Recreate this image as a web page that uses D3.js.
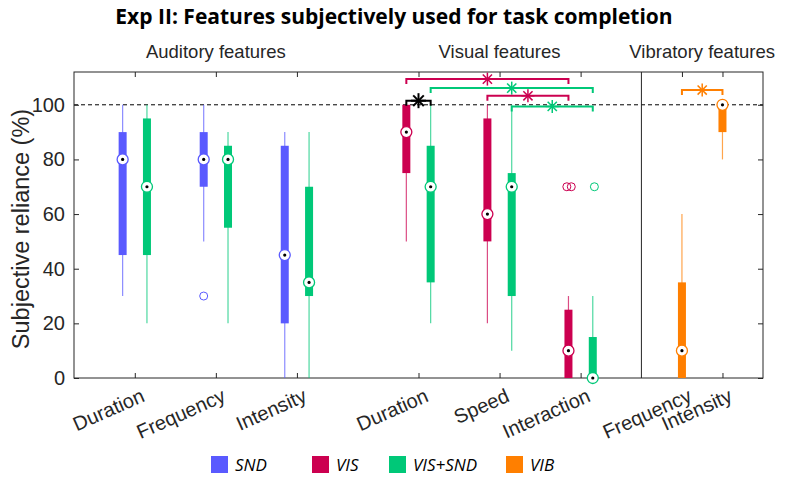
<!DOCTYPE html>
<html>
<head>
  <meta charset="utf-8">
  <title>Exp II: Features subjectively used for task completion</title>
  <script src="https://d3js.org/d3.v7.min.js"></script>
  <style>
    body { margin: 0; background: #fff; }
    svg text { fill: #262626; }
  </style>
</head>
<body>
<div id="chart"></div>
<script>
// categories along the x axis
var categories = ["Duration", "Frequency", "Intensity", "Duration", "Speed", "Interaction", "Frequency", "Intensity"];
var groupNames = ["Auditory features", "Visual features", "Vibratory features"];
var yTicks = [0, 20, 40, 60, 80, 100];
var seriesNames = ["SND", "VIS", "VIS+SND", "VIB"];

// box stats per series: [category index, low whisker, q1, median, q3, high whisker]
var sndBoxes = [[0, 30, 45, 80, 90, 100], [1, 50, 70, 80, 90, 100], [2, 0, 20, 45, 85, 90]];
var visBoxes = [[3, 50, 75, 90, 100, 100], [4, 20, 50, 60, 95, 100], [5, 0, 0, 10, 25, 30]];
var visSndBoxes = [[0, 20, 45, 70, 95, 100], [1, 20, 55, 80, 85, 90], [2, 0, 30, 35, 70, 90],
                   [3, 20, 35, 70, 85, 100], [4, 10, 30, 70, 75, 100], [5, 0, 0, 0, 15, 30]];
var vibBoxes = [[6, 0, 0, 10, 35, 60], [7, 80, 90, 100, 100, 100]];

// outliers: [category index, value, jitter]
var sndOutliers = [[1, 30, 0]];
var visOutliers = [[5, 70, -0.02], [5, 70, 0.035]];
var visSndOutliers = [[5, 70, 0.02]];

// significance brackets: [series, cat, series, cat, level]
var sigBrackets = [
  ["VIS", 3, "VIS", 5, 109.4],
  ["VIS+SND", 3, "VIS+SND", 5, 106.1],
  ["VIS", 4, "VIS", 5, 103.3],
  ["VIS+SND", 4, "VIS+SND", 5, 99.4],
  ["VIS", 3, "VIS+SND", 3, 101.5],
  ["VIB", 6, "VIB", 7, 105.4]
];

var W = 787, H = 489;
var mLeft = 74, mRight = 763, mTop = 72, mBottom = 378;

// tick position of each category (groups separated by a gap)
var catPos = [1, 2, 3, 4.5, 5.5, 6.5, 7.75, 8.25];
var offset = {"SND": -0.15, "VIS": -0.15, "VIS+SND": 0.15, "VIB": 0};
var colors = {"SND": "#5a5aff", "VIS": "#cc0050", "VIS+SND": "#00c878", "VIB": "#ff7f00"};

var x = d3.scaleLinear().domain([0.25, 8.75]).range([mLeft, mRight]);
var y = d3.scaleLinear().domain([0, 112]).range([mBottom, mTop]);

var svg = d3.select("#chart").append("svg")
  .attr("width", W).attr("height", H)
  .style("font-family", "'Liberation Sans', Arial, sans-serif");

function px(s, c, j) { return x(catPos[c] + offset[s] + (j || 0)); }

// title
svg.append("text").attr("x", 394).attr("y", 24)
  .attr("text-anchor", "middle")
  .style("font-family", "'Open Sans', sans-serif").style("font-weight", "bold").style("font-size", "21px")
  .style("fill", "#000")
  .text("Exp II: Features subjectively used for task completion");

// group labels
var groupCenters = [2, 5.5, 8];
svg.selectAll("text.group").data(groupNames).enter().append("text")
  .attr("class", "group")
  .attr("x", function (d, i) { return x(groupCenters[i]); })
  .attr("y", 58)
  .attr("text-anchor", "middle")
  .style("font-size", "18.5px")
  .text(function (d) { return d; });

// reference line at 100
svg.append("line")
  .attr("x1", mLeft).attr("x2", mRight).attr("y1", y(100)).attr("y2", y(100))
  .attr("stroke", "#000").attr("stroke-dasharray", "4,3");

// axes box
var axisCol = "#262626";
svg.append("rect").attr("x", mLeft).attr("y", mTop)
  .attr("width", mRight - mLeft).attr("height", mBottom - mTop)
  .attr("fill", "none").attr("stroke", axisCol);
svg.append("line").attr("x1", x(7.25)).attr("x2", x(7.25)).attr("y1", mTop).attr("y2", mBottom)
  .attr("stroke", axisCol);

// ticks inward on all sides
var yAxisL = d3.axisLeft(y).tickValues(yTicks).tickSize(-5).tickPadding(9);
var yAxisR = d3.axisRight(y).tickValues(yTicks).tickSize(-5).tickFormat("");
var xAxisB = d3.axisBottom(x).tickValues(catPos).tickSize(-5).tickFormat("");
var xAxisT = d3.axisTop(x).tickValues(catPos).tickSize(-5).tickFormat("");
[[yAxisL, "translate(" + mLeft + ",0)"], [yAxisR, "translate(" + mRight + ",0)"],
 [xAxisB, "translate(0," + mBottom + ")"], [xAxisT, "translate(0," + mTop + ")"]].forEach(function (a) {
  var g = svg.append("g").attr("transform", a[1]).call(a[0]);
  g.select(".domain").remove();
  g.selectAll("line").attr("stroke", axisCol);
  g.selectAll("text").style("font-size", "20px").style("font-family", "'Liberation Sans', Arial, sans-serif").attr("fill", axisCol);
});

// x category labels, rotated
svg.selectAll("text.cat").data(categories).enter().append("text")
  .attr("class", "cat")
  .attr("transform", function (d, i) { return "translate(" + (x(catPos[i]) + 5) + "," + (mBottom + 9) + ") rotate(-24)"; })
  .attr("text-anchor", "end")
  .attr("dy", "0.75em")
  .style("font-size", "20px")
  .text(function (d) { return d; });

// y label
svg.append("text")
  .attr("transform", "translate(21," + ((mTop + mBottom) / 2 + 4) + ") rotate(-90)")
  .attr("text-anchor", "middle")
  .attr("dy", "0.35em")
  .style("font-size", "23.5px")
  .text("Subjective reliance (%)");

// boxes
function drawBoxes(name, boxes, outliers) {
  var c = colors[name];
  var g = svg.append("g");
  boxes.forEach(function (b) {
    var cx = px(name, b[0]);
    g.append("line").attr("x1", cx).attr("x2", cx).attr("y1", y(b[1])).attr("y2", y(b[5]))
      .attr("stroke", c).attr("stroke-opacity", 0.7).attr("stroke-width", 1.2);
    g.append("rect").attr("x", cx - 4).attr("width", 8)
      .attr("y", y(b[4])).attr("height", Math.max(0, y(b[2]) - y(b[4])))
      .attr("fill", c);
  });
  outliers.forEach(function (o) {
    g.append("circle").attr("cx", px(name, o[0], o[2])).attr("cy", y(o[1])).attr("r", 4)
      .attr("fill", "none").attr("stroke", c).attr("stroke-width", 1);
  });
  boxes.forEach(function (b) {
    var cx = px(name, b[0]);
    g.append("circle").attr("cx", cx).attr("cy", y(b[3])).attr("r", 5.5)
      .attr("fill", "#fff").attr("stroke", c).attr("stroke-width", 1.3);
    g.append("circle").attr("cx", cx).attr("cy", y(b[3])).attr("r", 1.6).attr("fill", "#000");
  });
}
drawBoxes("SND", sndBoxes, sndOutliers);
drawBoxes("VIS", visBoxes, visOutliers);
drawBoxes("VIS+SND", visSndBoxes, visSndOutliers);
drawBoxes("VIB", vibBoxes, []);

// significance brackets with asterisks
function star(g, cx, cy, r, c, w) {
  [0, 45, 90, 135].forEach(function (a) {
    var t = a * Math.PI / 180;
    g.append("line")
      .attr("x1", cx - r * Math.cos(t)).attr("y1", cy - r * Math.sin(t))
      .attr("x2", cx + r * Math.cos(t)).attr("y2", cy + r * Math.sin(t))
      .attr("stroke", c).attr("stroke-width", w);
  });
}
var sg = svg.append("g");
sigBrackets.forEach(function (s) {
  var c = s[0] === s[2] ? colors[s[0]] : "#000";
  var x1 = px(s[0], s[1]), x2 = px(s[2], s[3]), yy = y(s[4]);
  sg.append("path")
    .attr("d", "M" + x1 + "," + (yy + 5) + "V" + yy + "H" + x2 + "V" + (yy + 5))
    .attr("fill", "none").attr("stroke", c).attr("stroke-width", 2);
  if (c === "#000") star(sg, (x1 + x2) / 2, yy, 7.5, c, 2);
  else star(sg, (x1 + x2) / 2, yy, 6.5, c, 1.5);
});

// legend
var legX = [211, 312, 389, 506];
var lg = svg.selectAll("g.leg").data(seriesNames).enter().append("g")
  .attr("class", "leg")
  .attr("transform", function (d, i) { return "translate(" + legX[i] + ",456)"; });
lg.append("rect").attr("width", 17).attr("height", 17).attr("fill", function (d) { return colors[d]; });
lg.append("text").attr("x", 24).attr("y", 15)
  .style("font-family", "'Open Sans', sans-serif").style("font-style", "italic").style("font-size", "17px")
  .style("fill", "#000")
  .text(function (d) { return d; });
</script>
</body>
</html>
